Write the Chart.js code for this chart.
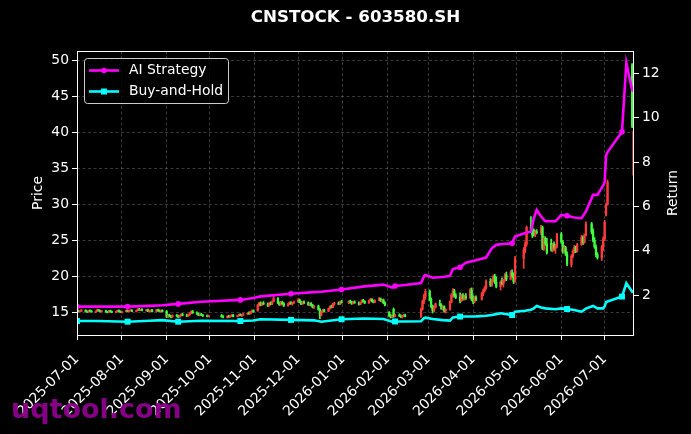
<!DOCTYPE html>
<html>
<head>
<meta charset="utf-8">
<script src="https://cdn.jsdelivr.net/npm/chart.js@4.4.1/dist/chart.umd.min.js"></script>
<style>
  html, body { margin: 0; padding: 0; background: #000; }
  canvas { display: block; }
</style>
</head>
<body>
<canvas id="chart" width="691" height="434"></canvas>
<script>
const chartTitle = 'CNSTOCK - 603580.SH';
const watermark = 'uqtool.com';
const seriesLabels = ['AI Strategy', 'Buy-and-Hold'];

// month ticks on the date axis
const monthTicks = ['2025-07-01', '2025-08-01', '2025-09-01', '2025-10-01', '2025-11-01', '2025-12-01',
  '2026-01-01', '2026-02-01', '2026-03-01', '2026-04-01', '2026-05-01', '2026-06-01', '2026-07-01'];

// daily candles: date, open, high, low, close
const candles = [
  ['2025-07-01', 15.10, 15.30, 15.00, 15.20], ['2025-07-02', 15.20, 15.30, 15.05, 15.10],
  ['2025-07-03', 15.10, 15.25, 15.00, 15.15], ['2025-07-04', 15.15, 15.40, 15.10, 15.30],
  ['2025-07-07', 15.30, 15.35, 15.05, 15.10], ['2025-07-08', 15.10, 15.20, 14.95, 15.05],
  ['2025-07-09', 15.05, 15.30, 15.00, 15.25], ['2025-07-10', 15.25, 15.35, 15.10, 15.15],
  ['2025-07-11', 15.15, 15.25, 15.00, 15.05], ['2025-07-14', 15.05, 15.20, 14.95, 15.15],
  ['2025-07-15', 15.15, 15.45, 15.10, 15.35], ['2025-07-16', 15.35, 15.40, 15.15, 15.20],
  ['2025-07-17', 15.20, 15.30, 15.05, 15.10], ['2025-07-18', 15.10, 15.25, 15.00, 15.20],
  ['2025-07-21', 15.20, 15.30, 15.00, 15.05], ['2025-07-22', 15.05, 15.15, 14.90, 15.00],
  ['2025-07-23', 15.00, 15.25, 14.95, 15.20], ['2025-07-24', 15.20, 15.30, 15.05, 15.10],
  ['2025-07-25', 15.10, 15.20, 14.95, 15.00], ['2025-07-28', 15.00, 15.15, 14.90, 15.10],
  ['2025-07-29', 15.10, 15.30, 15.05, 15.25], ['2025-07-30', 15.25, 15.35, 15.05, 15.10],
  ['2025-07-31', 15.10, 15.20, 14.95, 15.00],
  ['2025-08-01', 15.00, 15.15, 14.90, 15.10], ['2025-08-04', 15.10, 15.30, 15.05, 15.25],
  ['2025-08-05', 15.25, 15.35, 15.10, 15.15], ['2025-08-06', 15.15, 15.30, 15.05, 15.25],
  ['2025-08-07', 15.25, 15.40, 15.15, 15.30], ['2025-08-08', 15.30, 15.35, 15.10, 15.15],
  ['2025-08-11', 15.15, 15.30, 15.05, 15.25], ['2025-08-12', 15.25, 15.50, 15.20, 15.40],
  ['2025-08-13', 15.40, 15.55, 15.25, 15.30], ['2025-08-14', 15.30, 15.45, 15.20, 15.40],
  ['2025-08-15', 15.40, 15.50, 15.20, 15.25], ['2025-08-18', 15.25, 15.40, 15.15, 15.35],
  ['2025-08-19', 15.35, 15.45, 15.10, 15.15], ['2025-08-20', 15.15, 15.30, 15.05, 15.20],
  ['2025-08-21', 15.20, 15.35, 15.10, 15.30], ['2025-08-22', 15.30, 15.40, 15.05, 15.10],
  ['2025-08-25', 15.10, 15.40, 15.05, 15.35], ['2025-08-26', 15.35, 15.45, 15.15, 15.20],
  ['2025-08-27', 15.20, 15.35, 15.05, 15.10], ['2025-08-28', 15.10, 15.30, 15.00, 15.25],
  ['2025-08-29', 15.25, 15.35, 15.05, 15.10],
  ['2025-09-01', 15.10, 15.25, 14.25, 14.40], ['2025-09-02', 14.40, 14.70, 14.30, 14.60],
  ['2025-09-03', 14.60, 14.75, 14.35, 14.45], ['2025-09-04', 14.45, 14.55, 14.20, 14.35],
  ['2025-09-05', 14.35, 14.65, 14.30, 14.55], ['2025-09-08', 14.55, 14.70, 14.40, 14.50],
  ['2025-09-09', 14.50, 14.60, 14.25, 14.35], ['2025-09-10', 14.35, 14.60, 14.30, 14.55],
  ['2025-09-11', 14.55, 14.80, 14.45, 14.70], ['2025-09-12', 14.70, 14.85, 14.50, 14.60],
  ['2025-09-15', 14.60, 14.75, 14.40, 14.45], ['2025-09-16', 14.45, 14.70, 14.40, 14.65],
  ['2025-09-17', 14.65, 14.95, 14.60, 14.85], ['2025-09-18', 14.85, 15.20, 14.80, 15.10],
  ['2025-09-19', 15.10, 15.25, 14.85, 14.90], ['2025-09-22', 14.90, 15.05, 14.70, 14.75],
  ['2025-09-23', 14.75, 14.90, 14.55, 14.60], ['2025-09-24', 14.60, 14.80, 14.50, 14.70],
  ['2025-09-25', 14.70, 14.85, 14.55, 14.60], ['2025-09-26', 14.60, 14.70, 14.40, 14.50],
  ['2025-09-29', 14.50, 14.65, 14.35, 14.45], ['2025-09-30', 14.45, 14.60, 14.35, 14.55],
  ['2025-10-09', 14.55, 14.70, 14.30, 14.40], ['2025-10-10', 14.40, 14.55, 14.20, 14.30],
  ['2025-10-13', 14.30, 14.50, 14.20, 14.45], ['2025-10-14', 14.45, 14.60, 14.30, 14.35],
  ['2025-10-15', 14.35, 14.55, 14.30, 14.50], ['2025-10-16', 14.50, 14.70, 14.40, 14.60],
  ['2025-10-17', 14.60, 14.70, 14.35, 14.40], ['2025-10-20', 14.40, 14.60, 14.35, 14.55],
  ['2025-10-21', 14.55, 14.75, 14.45, 14.65], ['2025-10-22', 14.65, 14.80, 14.50, 14.55],
  ['2025-10-23', 14.55, 14.70, 14.40, 14.60], ['2025-10-24', 14.60, 14.85, 14.55, 14.75],
  ['2025-10-27', 14.75, 14.95, 14.65, 14.90], ['2025-10-28', 14.90, 15.05, 14.70, 14.80],
  ['2025-10-29', 14.80, 15.15, 14.75, 15.05], ['2025-10-30', 15.05, 15.30, 14.95, 15.20],
  ['2025-10-31', 15.20, 15.35, 15.00, 15.10],
  ['2025-11-03', 15.20, 16.10, 15.15, 16.00], ['2025-11-04', 16.00, 16.40, 15.85, 16.30],
  ['2025-11-05', 16.30, 16.45, 15.90, 16.00], ['2025-11-06', 16.00, 16.35, 15.95, 16.25],
  ['2025-11-07', 16.25, 16.50, 16.05, 16.15], ['2025-11-10', 16.15, 16.30, 15.80, 15.90],
  ['2025-11-11', 15.90, 16.35, 15.85, 16.25], ['2025-11-12', 16.25, 16.45, 16.05, 16.10],
  ['2025-11-13', 16.10, 16.60, 16.05, 16.50], ['2025-11-14', 16.50, 17.20, 16.45, 16.95],
  ['2025-11-17', 16.95, 17.05, 16.20, 16.30], ['2025-11-18', 16.30, 16.45, 15.95, 16.05],
  ['2025-11-19', 16.05, 16.50, 16.00, 16.40], ['2025-11-20', 16.40, 16.55, 16.10, 16.20],
  ['2025-11-21', 16.20, 16.35, 15.80, 15.90], ['2025-11-24', 15.90, 16.25, 15.85, 16.15],
  ['2025-11-25', 16.15, 16.45, 16.05, 16.35], ['2025-11-26', 16.35, 16.50, 16.10, 16.20],
  ['2025-11-27', 16.20, 16.40, 16.00, 16.30], ['2025-11-28', 16.30, 16.55, 16.20, 16.45],
  ['2025-12-01', 16.45, 16.90, 16.35, 16.70], ['2025-12-02', 16.70, 16.85, 16.30, 16.40],
  ['2025-12-03', 16.40, 16.55, 16.05, 16.15], ['2025-12-04', 16.15, 16.50, 16.10, 16.40],
  ['2025-12-05', 16.40, 16.60, 16.20, 16.30], ['2025-12-08', 16.30, 16.45, 15.95, 16.05],
  ['2025-12-09', 16.05, 16.30, 15.90, 16.20], ['2025-12-10', 16.20, 16.35, 15.85, 15.95],
  ['2025-12-11', 15.95, 16.10, 15.60, 15.70], ['2025-12-12', 15.70, 15.95, 15.55, 15.85],
  ['2025-12-15', 15.85, 16.00, 15.30, 15.40], ['2025-12-16', 15.40, 15.50, 14.10, 14.60],
  ['2025-12-17', 14.60, 15.20, 14.50, 15.10], ['2025-12-18', 15.10, 15.40, 14.95, 15.30],
  ['2025-12-19', 15.30, 15.45, 15.05, 15.15], ['2025-12-22', 15.15, 15.60, 15.10, 15.50],
  ['2025-12-23', 15.50, 15.90, 15.45, 15.80], ['2025-12-24', 15.80, 16.00, 15.60, 15.70],
  ['2025-12-25', 15.70, 16.25, 15.65, 16.15], ['2025-12-26', 16.15, 16.40, 16.00, 16.30],
  ['2025-12-29', 16.30, 16.45, 16.05, 16.10], ['2025-12-30', 16.10, 16.55, 16.05, 16.45],
  ['2025-12-31', 16.45, 16.65, 16.25, 16.35],
  ['2026-01-05', 16.35, 16.60, 16.20, 16.50], ['2026-01-06', 16.50, 16.70, 16.30, 16.40],
  ['2026-01-07', 16.40, 16.55, 16.10, 16.20], ['2026-01-08', 16.20, 16.50, 16.15, 16.45],
  ['2026-01-09', 16.45, 16.60, 16.25, 16.30], ['2026-01-12', 16.30, 16.45, 16.00, 16.10],
  ['2026-01-13', 16.10, 16.40, 16.05, 16.35], ['2026-01-14', 16.35, 16.75, 16.30, 16.65],
  ['2026-01-15', 16.65, 16.80, 16.40, 16.50], ['2026-01-16', 16.50, 16.60, 16.20, 16.30],
  ['2026-01-19', 16.30, 16.70, 16.25, 16.60], ['2026-01-20', 16.60, 16.95, 16.55, 16.80],
  ['2026-01-21', 16.80, 16.90, 16.45, 16.55], ['2026-01-22', 16.55, 16.70, 16.30, 16.40],
  ['2026-01-23', 16.40, 16.75, 16.35, 16.65], ['2026-01-26', 16.65, 17.05, 16.60, 16.90],
  ['2026-01-27', 16.90, 17.00, 16.50, 16.60], ['2026-01-28', 16.60, 16.80, 16.40, 16.70],
  ['2026-01-29', 16.70, 16.85, 16.20, 16.30], ['2026-01-30', 16.30, 16.45, 15.90, 16.00],
  ['2026-02-02', 15.00, 15.10, 14.40, 14.50], ['2026-02-03', 14.50, 14.70, 14.20, 14.30],
  ['2026-02-04', 14.30, 14.60, 14.25, 14.50], ['2026-02-05', 15.40, 15.60, 14.30, 14.45],
  ['2026-02-06', 14.45, 14.70, 14.35, 14.60], ['2026-02-09', 14.60, 14.80, 14.40, 14.50],
  ['2026-02-10', 14.50, 14.65, 14.25, 14.35], ['2026-02-11', 14.35, 14.55, 14.20, 14.45],
  ['2026-02-12', 14.45, 14.70, 14.40, 14.60], ['2026-02-13', 14.60, 14.75, 14.35, 14.40],
  ['2026-02-24', 14.40, 15.60, 14.30, 15.40], ['2026-02-25', 15.40, 16.70, 15.30, 16.50],
  ['2026-02-26', 16.50, 17.50, 16.20, 17.20], ['2026-02-27', 17.20, 18.20, 16.80, 17.90],
  ['2026-03-02', 17.90, 18.10, 16.60, 16.80], ['2026-03-03', 16.80, 17.00, 15.60, 15.80],
  ['2026-03-04', 15.80, 16.00, 14.90, 15.20], ['2026-03-05', 15.20, 15.90, 15.10, 15.70],
  ['2026-03-06', 15.70, 16.30, 15.60, 16.20], ['2026-03-09', 16.20, 16.70, 15.90, 16.00],
  ['2026-03-10', 16.00, 16.20, 15.40, 15.50], ['2026-03-11', 15.50, 15.90, 15.30, 15.80],
  ['2026-03-12', 15.80, 15.90, 15.00, 15.20], ['2026-03-13', 15.20, 15.50, 14.90, 15.40],
  ['2026-03-16', 15.40, 16.60, 15.30, 16.40], ['2026-03-17', 16.40, 17.60, 16.30, 17.40],
  ['2026-03-18', 17.40, 18.30, 17.10, 18.00], ['2026-03-19', 18.00, 18.20, 17.10, 17.30],
  ['2026-03-20', 17.30, 17.60, 16.90, 17.10], ['2026-03-23', 17.10, 17.70, 16.30, 16.60],
  ['2026-03-24', 16.60, 17.50, 16.50, 17.30], ['2026-03-25', 17.30, 17.60, 16.70, 16.90],
  ['2026-03-26', 16.90, 17.40, 16.70, 17.20], ['2026-03-27', 17.20, 17.60, 16.80, 17.00],
  ['2026-03-30', 17.00, 18.30, 16.90, 18.10], ['2026-03-31', 18.10, 18.40, 16.60, 16.80],
  ['2026-04-01', 16.80, 17.30, 16.20, 16.50], ['2026-04-02', 16.50, 17.20, 16.30, 17.00],
  ['2026-04-03', 17.00, 17.30, 16.60, 16.80], ['2026-04-07', 16.80, 17.80, 16.70, 17.60],
  ['2026-04-08', 17.60, 18.20, 17.30, 18.00], ['2026-04-09', 18.00, 18.60, 17.80, 18.40],
  ['2026-04-10', 18.40, 19.50, 18.20, 19.30], ['2026-04-13', 19.30, 19.70, 18.60, 18.80],
  ['2026-04-14', 18.80, 19.60, 18.60, 19.40], ['2026-04-15', 19.40, 20.20, 19.20, 20.00],
  ['2026-04-16', 20.00, 20.30, 19.00, 19.20], ['2026-04-17', 19.20, 19.90, 18.40, 18.60],
  ['2026-04-20', 18.60, 19.40, 18.10, 19.20], ['2026-04-21', 19.20, 19.80, 18.80, 19.00],
  ['2026-04-22', 19.00, 19.60, 18.50, 19.50], ['2026-04-23', 19.50, 20.40, 19.30, 20.20],
  ['2026-04-24', 20.20, 20.60, 19.40, 19.60], ['2026-04-27', 19.60, 20.80, 19.50, 20.50],
  ['2026-04-28', 20.50, 20.90, 19.80, 20.00], ['2026-04-29', 20.00, 20.50, 19.00, 19.30],
  ['2026-04-30', 19.30, 22.80, 19.20, 22.50],
  ['2026-05-06', 22.50, 24.00, 21.10, 23.60], ['2026-05-07', 23.60, 24.80, 23.30, 24.50],
  ['2026-05-08', 24.50, 27.00, 24.20, 26.80], ['2026-05-11', 26.80, 28.30, 26.20, 26.50],
  ['2026-05-12', 26.50, 27.00, 25.40, 25.70], ['2026-05-13', 26.40, 26.60, 25.60, 25.80],
  ['2026-05-14', 25.80, 26.40, 25.50, 26.20], ['2026-05-15', 26.20, 26.50, 25.90, 26.10],
  ['2026-05-18', 26.10, 27.10, 25.80, 26.80], ['2026-05-19', 26.80, 27.00, 23.70, 23.90],
  ['2026-05-20', 23.80, 25.60, 23.60, 25.30], ['2026-05-21', 25.30, 25.50, 24.30, 24.50],
  ['2026-05-22', 24.50, 25.30, 23.10, 23.30], ['2026-05-25', 24.60, 25.20, 23.50, 23.70],
  ['2026-05-26', 23.70, 24.60, 23.40, 24.40], ['2026-05-27', 24.40, 24.80, 23.60, 23.90],
  ['2026-05-28', 23.90, 24.50, 23.20, 24.20], ['2026-05-29', 24.20, 26.00, 24.00, 25.90],
  ['2026-06-01', 25.90, 26.10, 24.60, 24.80], ['2026-06-02', 24.80, 25.00, 23.20, 23.50],
  ['2026-06-03', 23.50, 24.30, 23.30, 24.00], ['2026-06-04', 24.00, 24.20, 22.90, 23.10],
  ['2026-06-05', 23.10, 23.40, 21.50, 21.70], ['2026-06-08', 21.60, 23.00, 21.30, 22.80],
  ['2026-06-09', 22.80, 23.70, 22.60, 23.50], ['2026-06-10', 23.50, 24.30, 23.20, 24.00],
  ['2026-06-11', 24.00, 24.20, 23.30, 23.50], ['2026-06-12', 23.50, 24.60, 23.40, 24.40],
  ['2026-06-15', 24.40, 25.70, 24.30, 25.40], ['2026-06-16', 25.40, 25.60, 24.40, 24.70],
  ['2026-06-17', 24.70, 25.90, 24.60, 25.70], ['2026-06-18', 25.70, 27.60, 25.60, 27.30],
  ['2026-06-22', 27.30, 27.50, 25.90, 26.20], ['2026-06-23', 26.20, 26.60, 24.80, 25.00],
  ['2026-06-24', 25.00, 25.40, 23.90, 24.10], ['2026-06-25', 24.10, 24.40, 22.70, 23.00],
  ['2026-06-26', 23.00, 23.30, 22.40, 22.60], ['2026-06-29', 22.60, 24.30, 22.20, 24.00],
  ['2026-06-30', 24.00, 25.50, 23.60, 25.20],
  ['2026-07-01', 25.20, 27.80, 25.00, 27.50], ['2026-07-02', 28.50, 30.20, 28.40, 30.00],
  ['2026-07-03', 30.00, 33.40, 29.90, 33.10],
  ['2026-07-20', 49.40, 49.60, 40.70, 40.90], ['2026-07-21', 34.10, 40.30, 34.00, 40.10]
];

// cumulative return curves (right axis)
const lineDates = ['2025-07-01', '2025-07-15', '2025-08-05', '2025-08-20', '2025-08-29', '2025-09-09',
  '2025-09-25', '2025-10-22', '2025-10-31', '2025-11-05', '2025-11-26', '2025-12-12', '2025-12-17',
  '2025-12-31', '2026-01-16', '2026-01-29', '2026-02-04', '2026-02-06', '2026-02-13', '2026-02-24',
  '2026-02-26', '2026-02-27', '2026-03-04', '2026-03-11', '2026-03-16', '2026-03-18', '2026-03-23',
  '2026-03-27', '2026-04-03', '2026-04-10', '2026-04-14', '2026-04-17', '2026-04-20', '2026-04-28',
  '2026-04-30', '2026-05-07', '2026-05-11', '2026-05-13', '2026-05-15', '2026-05-18', '2026-05-21',
  '2026-05-28', '2026-06-01', '2026-06-05', '2026-06-10', '2026-06-15', '2026-06-18', '2026-06-23',
  '2026-06-26', '2026-06-30', '2026-07-01', '2026-07-02', '2026-07-03', '2026-07-13', '2026-07-16',
  '2026-07-20', '2026-07-21'];
const aiStrategy = [1.49, 1.49, 1.49, 1.52, 1.55, 1.61, 1.71, 1.79, 1.88, 1.95, 2.07, 2.14, 2.16,
  2.26, 2.40, 2.48, 2.35, 2.42, 2.46, 2.55, 2.85, 2.91, 2.79, 2.82, 2.87, 3.18, 3.26, 3.47, 3.58,
  3.70, 4.12, 4.27, 4.30, 4.34, 4.64, 4.80, 4.86, 5.47, 5.84, 5.55, 5.33, 5.33, 5.62, 5.58, 5.50,
  5.47, 5.77, 6.52, 6.52, 6.95, 7.10, 8.30, 8.45, 9.36, 12.46, 11.25, 11.16];
const buyHold = [0.84, 0.84, 0.81, 0.85, 0.88, 0.81, 0.85, 0.84, 0.86, 0.92, 0.89, 0.87, 0.81,
  0.92, 0.95, 0.93, 0.81, 0.82, 0.82, 0.83, 0.97, 0.99, 0.93, 0.88, 0.86, 1.00, 1.04, 1.04, 1.05,
  1.08, 1.11, 1.15, 1.19, 1.11, 1.26, 1.30, 1.35, 1.41, 1.52, 1.45, 1.41, 1.37, 1.41, 1.38, 1.34,
  1.26, 1.40, 1.52, 1.41, 1.41, 1.50, 1.70, 1.72, 1.94, 2.54, 2.16, 2.18];
const markerDates = ['2025-07-01', '2025-08-05', '2025-09-09', '2025-10-22', '2025-11-26', '2025-12-31',
  '2026-02-06', '2026-03-23', '2026-04-28', '2026-06-05', '2026-07-13'];

const DAY0 = Date.parse('2025-07-01');
const toDay = s => (Date.parse(s) - DAY0) / 86400000;

const FONT = 'DejaVu Sans';
const upColor = '#ff3b3b';
const downColor = '#3dff3d';
const aiColor = '#ff00ff';
const bhColor = '#00ffff';
const gridColor = 'rgba(140,140,140,0.5)';

const candleColor = c => (c[4] >= c[1] ? upColor : downColor);

function lineData(values) {
  return lineDates.map((d, i) => ({ x: toDay(d), y: values[i] }));
}
const markerRadius = r => ctx => (markerDates.includes(lineDates[ctx.dataIndex]) ? r : 0);

const overlay = {
  id: 'overlay',
  beforeDraw(chart) {
    const ctx = chart.ctx;
    ctx.save();
    ctx.fillStyle = '#000';
    ctx.fillRect(0, 0, chart.width, chart.height);
    ctx.restore();
  },
  afterDraw(chart) {
    const ctx = chart.ctx;
    const a = chart.chartArea;
    ctx.save();
    // spines
    ctx.strokeStyle = '#fff';
    ctx.lineWidth = 1;
    ctx.strokeRect(a.left + 0.5, a.top + 0.5, a.right - a.left - 1, a.bottom - a.top);

    // title
    ctx.fillStyle = '#fff';
    ctx.font = 'bold 16.7px "' + FONT + '"';
    ctx.textAlign = 'center';
    ctx.textBaseline = 'middle';
    ctx.fillText(chartTitle, (a.left + a.right) / 2, 18);

    // axis titles
    ctx.font = '13.9px "' + FONT + '"';
    const midY = (a.top + a.bottom) / 2;
    ctx.save();
    ctx.translate(38, midY);
    ctx.rotate(-Math.PI / 2);
    ctx.fillText('Price', 0, 0);
    ctx.restore();
    ctx.save();
    ctx.translate(673, midY);
    ctx.rotate(-Math.PI / 2);
    ctx.fillText('Return', 0, 0);
    ctx.restore();

    // legend
    ctx.fillStyle = 'rgba(0,0,0,0.8)';
    ctx.strokeStyle = '#cccccc';
    ctx.beginPath();
    ctx.roundRect(84.5, 58.5, 144, 45, 3);
    ctx.fill();
    ctx.stroke();
    const entries = [[seriesLabels[0], aiColor, 'circle', 70.5], [seriesLabels[1], bhColor, 'rect', 91.5]];
    entries.forEach(([label, color, style, y]) => {
      ctx.strokeStyle = color;
      ctx.fillStyle = color;
      ctx.lineWidth = 2.6;
      ctx.beginPath();
      ctx.moveTo(89, y);
      ctx.lineTo(119, y);
      ctx.stroke();
      if (style === 'circle') {
        ctx.beginPath();
        ctx.arc(104, y, 2.8, 0, Math.PI * 2);
        ctx.fill();
      } else {
        ctx.fillRect(101, y - 3, 6, 6);
      }
      ctx.fillStyle = '#fff';
      ctx.textAlign = 'left';
      ctx.textBaseline = 'middle';
      ctx.font = '13.9px "' + FONT + '"';
      ctx.fillText(label, 129, y);
    });

    // watermark
    ctx.fillStyle = 'rgba(140,0,140,0.95)';
    ctx.font = 'bold 27px "' + FONT + '"';
    ctx.textAlign = 'left';
    ctx.textBaseline = 'alphabetic';
    ctx.fillText(watermark, 11, 418);
    ctx.restore();
  }
};

const tickFont = { family: FONT, size: 13.9 };

new Chart(document.getElementById('chart'), {
  type: 'bar',
  data: {
    datasets: [
      {
        type: 'line', label: seriesLabels[0], yAxisID: 'y2', order: 1,
        data: lineData(aiStrategy), borderColor: aiColor, backgroundColor: aiColor,
        borderWidth: 2.6, tension: 0, pointStyle: 'circle',
        pointRadius: markerRadius(2.8), pointBorderWidth: 0, pointBackgroundColor: aiColor
      },
      {
        type: 'line', label: seriesLabels[1], yAxisID: 'y2', order: 1,
        data: lineData(buyHold), borderColor: bhColor, backgroundColor: bhColor,
        borderWidth: 2.6, tension: 0, pointStyle: 'rect',
        pointRadius: markerRadius(4.2), pointBorderWidth: 0, pointBackgroundColor: bhColor
      },
      {
        label: 'body', yAxisID: 'y', order: 2, grouped: false,
        data: candles.map(c => ({ x: toDay(c[0]), y: [c[1], c[4]] })),
        backgroundColor: candles.map(candleColor), borderWidth: 0, barThickness: 1.6
      },
      {
        label: 'wick', yAxisID: 'y', order: 3, grouped: false,
        data: candles.map(c => ({ x: toDay(c[0]), y: [c[3], c[2]] })),
        backgroundColor: candles.map(candleColor), borderWidth: 0, barThickness: 1
      }
    ]
  },
  options: {
    responsive: false,
    animation: false,
    events: [],
    layout: { padding: { top: 51, left: 0, right: 0, bottom: 0 } },
    plugins: { legend: { display: false }, tooltip: { enabled: false }, title: { display: false } },
    scales: {
      x: {
        type: 'linear', min: 0, max: 385.3, offset: false,
        afterFit: s => { s.height = 434 - 335; },
        afterBuildTicks: s => { s.ticks = monthTicks.map(m => ({ value: toDay(m) })); },
        ticks: {
          color: '#fff', font: tickFont, autoSkip: false, minRotation: 45, maxRotation: 45, padding: 11,
          callback: v => monthTicks.find(m => toDay(m) === v) || ''
        },
        grid: { color: gridColor, lineWidth: 0.8, offset: false, tickColor: '#fff', tickLength: 5, tickWidth: 1, tickBorderDash: [] },
        border: { display: false, dash: [3, 2.5] }
      },
      y: {
        position: 'left', min: 11.84, max: 51.35,
        afterFit: s => { s.width = 77; },
        ticks: { color: '#fff', font: tickFont, stepSize: 5, includeBounds: false, padding: 3 },
        grid: { color: gridColor, lineWidth: 0.8, tickColor: '#fff', tickLength: 5, tickWidth: 1, tickBorderDash: [] },
        border: { display: false, dash: [3, 2.5] }
      },
      y2: {
        position: 'right', min: 0.21, max: 13.0,
        afterFit: s => { s.width = 691 - 634; },
        ticks: { color: '#fff', font: tickFont, stepSize: 2, includeBounds: false, padding: 3 },
        grid: { drawOnChartArea: false, tickColor: '#fff', tickLength: 5, tickWidth: 1 },
        border: { display: false }
      }
    }
  },
  plugins: [overlay]
});
</script>
</body>
</html>
